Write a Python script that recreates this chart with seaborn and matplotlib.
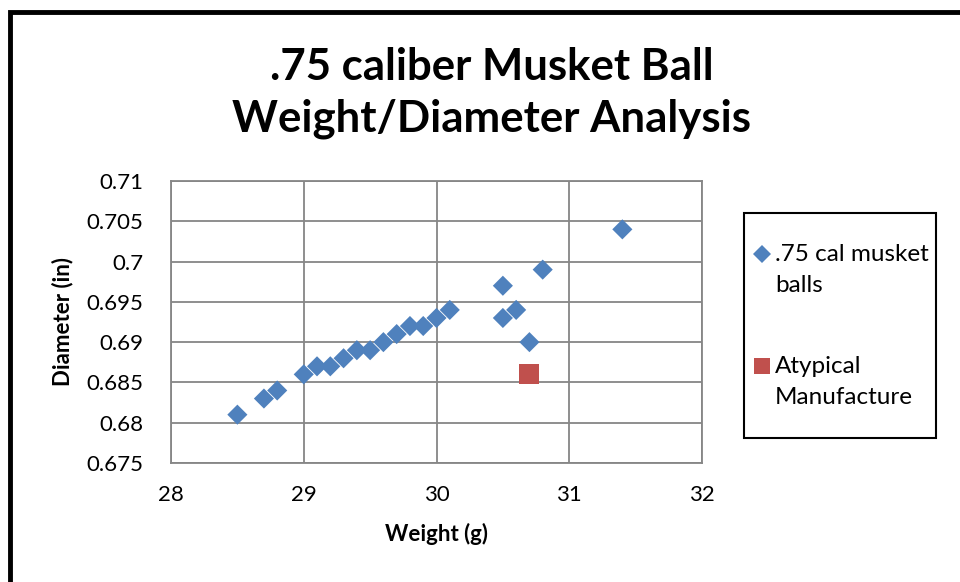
import matplotlib
matplotlib.use("Agg")
import matplotlib.pyplot as plt
import seaborn as sns
import pandas as pd
from matplotlib.patches import Rectangle

# Data
musket_weight = [28.5, 28.7, 28.8, 29.0, 29.1, 29.2, 29.3, 29.4, 29.5, 29.6,
                 29.7, 29.8, 29.9, 30.0, 30.1, 30.5, 30.5, 30.6, 30.7, 30.8, 31.4]
musket_diam = [0.681, 0.683, 0.684, 0.686, 0.687, 0.687, 0.688, 0.689, 0.689, 0.690,
               0.691, 0.692, 0.692, 0.693, 0.694, 0.697, 0.693, 0.694, 0.690, 0.699, 0.704]
atyp_weight = [30.7]
atyp_diam = [0.686]
series_names = [".75 cal musket\nballs", "Atypical\nManufacture"]
x_ticks = [28, 29, 30, 31, 32]
y_ticks = [0.675, 0.68, 0.685, 0.69, 0.695, 0.70, 0.705, 0.71]
y_ticklabels = ["0.675", "0.68", "0.685", "0.69", "0.695", "0.7", "0.705", "0.71"]

df = pd.DataFrame({
    "Weight": musket_weight + atyp_weight,
    "Diameter": musket_diam + atyp_diam,
    "Series": [series_names[0]] * len(musket_weight) + [series_names[1]] * len(atyp_weight),
})

sns.set_theme(style="white")
plt.rcParams["font.family"] = ["Lato", "DejaVu Sans"]
plt.rcParams["text.color"] = "black"
plt.rcParams["axes.labelcolor"] = "black"

fig = plt.figure(figsize=(9.6, 5.82), dpi=100)
ax = fig.add_axes([171/960, 1 - 463/582, (702 - 171)/960, (463 - 181)/582])

gridc = "#868686"
sns.scatterplot(data=df, x="Weight", y="Diameter", hue="Series", style="Series",
                size="Series",
                sizes={series_names[0]: 105, series_names[1]: 205},
                palette={series_names[0]: "#4F81BD", series_names[1]: "#C0504D"},
                markers={series_names[0]: "D", series_names[1]: "s"},
                linewidth=0, ax=ax, zorder=3, legend=True)

ax.set_xlim(28, 32)
ax.set_ylim(0.675, 0.71)
ax.set_xticks(x_ticks)
ax.set_xticklabels([str(v) for v in x_ticks])
ax.set_yticks(y_ticks)
ax.set_yticklabels(y_ticklabels)
ax.tick_params(axis="both", labelsize=16, length=0, colors="black")
ax.tick_params(axis="x", pad=16)
ax.tick_params(axis="y", pad=20)
ax.grid(True, color=gridc, linewidth=1.3)
ax.set_axisbelow(True)
for sp in ax.spines.values():
    sp.set_color(gridc)
    sp.set_linewidth(1.3)

ax.set_xlabel("Weight (g)", fontsize=16, fontweight="bold", labelpad=13, color="black")
ax.set_ylabel("Diameter (in)", fontsize=16, fontweight="bold", labelpad=9, color="black")

fig.text(492/960, 1 - 93/582, ".75 caliber Musket Ball\nWeight/Diameter Analysis",
         ha="center", va="center", fontsize=31.5, fontweight="bold", linespacing=1.32,
         color="black")

handles, labels = ax.get_legend_handles_labels()
ax.legend_.remove()
fs = 17.5
ls = 1.6
leg = fig.legend(handles, labels, loc="upper left",
                 bbox_to_anchor=(752/960, 1 - 244/582),
                 fontsize=fs, frameon=False, labelspacing=2.45, handletextpad=0.12,
                 handlelength=0.82, borderpad=0, borderaxespad=0, markerscale=0.85,
                 labelcolor="black")
for t in leg.get_texts():
    t.set_linespacing(ls)
# align each marker with the first line of its two-line label
shift = 11.5
for h in leg.legend_handles:
    try:
        yd = h.get_ydata()
        h.set_ydata([y + shift for y in yd])
    except AttributeError:
        off = h.get_offsets()
        off[:, 1] += shift
        h.set_offsets(off)

fig.patches.append(Rectangle((744/960, 1 - 438/582), (936 - 744)/960, (438 - 213)/582,
                             transform=fig.transFigure, fill=False,
                             edgecolor="black", linewidth=1.5))
fig.patches.append(Rectangle((10/960, -0.2), 1.5, 1 - 12/582 + 0.2,
                             transform=fig.transFigure, fill=False,
                             edgecolor="black", linewidth=3.5))

fig.savefig("out.png", dpi=100)
